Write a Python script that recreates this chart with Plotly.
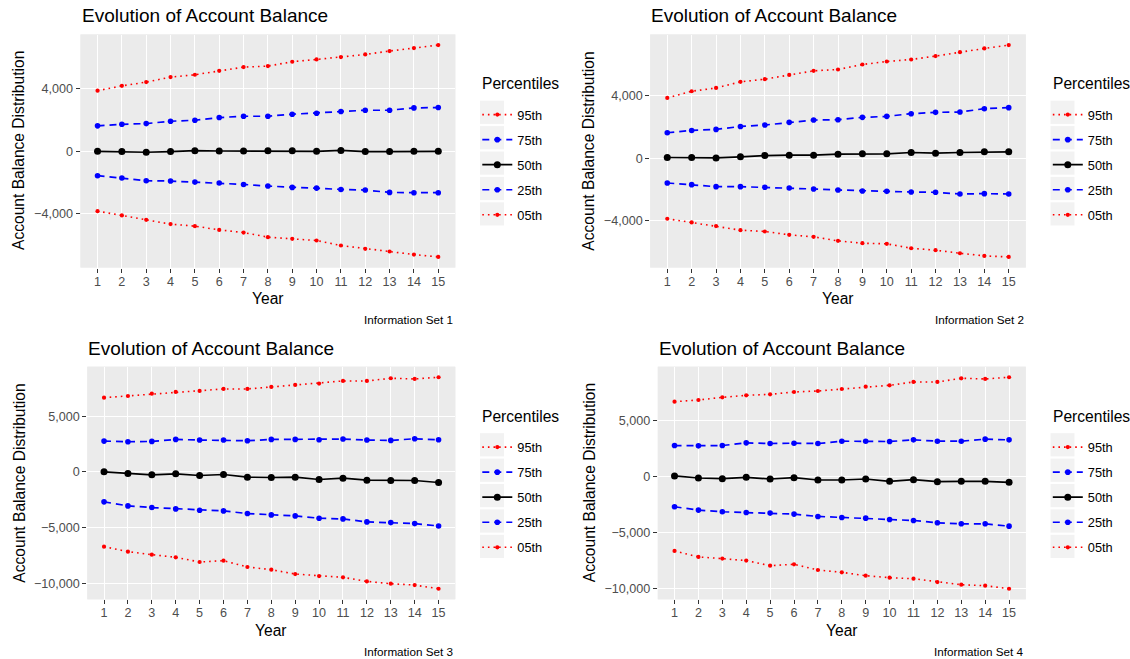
import plotly.graph_objects as go

# ---------------- data ----------------
years = list(range(1, 16))
percentiles = ["95th", "75th", "50th", "25th", "05th"]
captions = ["Information Set 1", "Information Set 2", "Information Set 3", "Information Set 4"]
chart_title = "Evolution of Account Balance"
x_title = "Year"
y_title = "Account Balance Distribution"
legend_title = "Percentiles"

set1_p95 = [3880, 4190, 4430, 4750, 4900, 5155, 5390, 5455, 5735, 5880, 6030, 6200, 6420, 6610, 6800]
set1_p75 = [1630, 1730, 1775, 1925, 1990, 2160, 2245, 2245, 2375, 2440, 2545, 2630, 2630, 2780, 2800]
set1_p50 = [0, -20, -60, -20, 40, 20, 20, 40, 40, 0, 60, -20, -20, 0, 0]
set1_p25 = [-1560, -1710, -1880, -1905, -1970, -2030, -2120, -2225, -2310, -2355, -2440, -2480, -2630, -2650, -2650]
set1_p05 = [-3830, -4105, -4385, -4660, -4790, -5030, -5200, -5495, -5605, -5710, -6030, -6245, -6415, -6610, -6760]

set2_p95 = [3850, 4280, 4490, 4880, 5050, 5325, 5585, 5670, 5990, 6180, 6310, 6525, 6780, 7015, 7230]
set2_p75 = [1625, 1775, 1840, 2030, 2120, 2290, 2440, 2460, 2610, 2675, 2845, 2930, 2950, 3165, 3230]
set2_p50 = [45, 45, 20, 85, 170, 190, 190, 255, 280, 280, 365, 320, 365, 405, 405]
set2_p25 = [-1585, -1690, -1820, -1820, -1860, -1905, -1970, -2030, -2095, -2120, -2160, -2180, -2290, -2265, -2290]
set2_p05 = [-3870, -4105, -4340, -4600, -4685, -4900, -5025, -5285, -5435, -5475, -5755, -5880, -6075, -6245, -6310]

set3_p95 = [6660, 6810, 7020, 7170, 7260, 7440, 7440, 7620, 7800, 7920, 8160, 8160, 8400, 8340, 8490]
set3_p75 = [2760, 2700, 2730, 2910, 2850, 2850, 2790, 2910, 2910, 2880, 2940, 2850, 2820, 2970, 2880]
set3_p50 = [0, -150, -270, -180, -330, -240, -480, -510, -480, -690, -570, -750, -780, -780, -960]
set3_p25 = [-2700, -3060, -3210, -3330, -3450, -3510, -3750, -3870, -3960, -4170, -4230, -4500, -4560, -4650, -4860]
set3_p05 = [-6720, -7170, -7440, -7680, -8100, -7980, -8550, -8790, -9180, -9360, -9480, -9840, -10050, -10170, -10500]

set4_p95 = [6720, 6870, 7110, 7290, 7380, 7590, 7680, 7860, 8070, 8190, 8490, 8490, 8820, 8760, 8910]
set4_p75 = [2790, 2760, 2790, 3030, 2970, 3000, 2970, 3180, 3180, 3150, 3300, 3180, 3180, 3360, 3300]
set4_p50 = [60, -120, -180, -60, -210, -90, -300, -300, -210, -420, -270, -450, -420, -420, -510]
set4_p25 = [-2700, -3000, -3150, -3210, -3270, -3360, -3570, -3660, -3720, -3840, -3930, -4140, -4230, -4230, -4440]
set4_p05 = [-6660, -7200, -7350, -7530, -7980, -7860, -8370, -8580, -8880, -9060, -9150, -9450, -9690, -9780, -10050]

y_ticks_top = [-4000, 0, 4000]
y_ticks_bottom = [-10000, -5000, 0, 5000]

sets = [
    [set1_p95, set1_p75, set1_p50, set1_p25, set1_p05],
    [set2_p95, set2_p75, set2_p50, set2_p25, set2_p05],
    [set3_p95, set3_p75, set3_p50, set3_p25, set3_p05],
    [set4_p95, set4_p75, set4_p50, set4_p25, set4_p05],
]
tick_sets = [y_ticks_top, y_ticks_top, y_ticks_bottom, y_ticks_bottom]

# ---------------- layout / style ----------------
W, H = 1130, 659
FONT = "Liberation Sans, Arial, Helvetica, sans-serif"
TICK_SIZE = 12.6
AXIS_TITLE_SIZE = 15.6
TITLE_SIZE = 19
LEGEND_TEXT_SIZE = 12.8

# panel boxes in pixels: (left, right, top, bottom)
panels_px = [
    (80.5, 455.3, 34.5, 267.5),
    (650.2, 1025.8, 34.5, 267.5),
    (87.3, 455.3, 366.7, 599.3),
    (657.8, 1025.8, 366.7, 599.3),
]

styles = {
    "95th": dict(color="#FF0000", dash="1.6px,4px", width=1.6, size=4.2),
    "75th": dict(color="#0000FF", dash="7px,5px", width=1.7, size=5.6),
    "50th": dict(color="#000000", dash="solid", width=1.7, size=7),
    "25th": dict(color="#0000FF", dash="7px,5px", width=1.7, size=5.6),
    "05th": dict(color="#FF0000", dash="1.6px,4px", width=1.6, size=4.2),
}


def px_x(v):
    return v / W


def px_y(v):
    return 1 - v / H


fig = go.Figure()
annotations = []
shapes = []

for i, (series_list, ticks) in enumerate(zip(sets, tick_sets)):
    n = i + 1
    sfx = "" if n == 1 else str(n)
    legend_name = "legend" if n == 1 else f"legend{n}"
    left, right, top, bottom = panels_px[i]

    for pct, vals in zip(percentiles, series_list):
        st = styles[pct]
        fig.add_trace(go.Scatter(
            x=years, y=vals, mode="lines+markers", name=pct,
            xaxis=f"x{sfx}", yaxis=f"y{sfx}",
            legend=legend_name, legendgroup=f"{n}-{pct}",
            line=dict(color=st["color"], dash=st["dash"], width=st["width"]),
            marker=dict(color=st["color"], size=st["size"]),
            hovertemplate="%{x}: %{y:,}<extra>" + pct + "</extra>",
        ))

    all_vals = [v for s in series_list for v in s]
    lo, hi = min(all_vals), max(all_vals)
    pad = 0.05 * (hi - lo)
    xpad = 0.05 * (max(years) - min(years))

    fig.update_layout({
        f"xaxis{sfx}": dict(
            domain=[px_x(left), px_x(right)], anchor=f"y{sfx}",
            range=[min(years) - xpad, max(years) + xpad],
            tickmode="array", tickvals=years, ticktext=[str(y) for y in years],
            showgrid=True, gridcolor="white", gridwidth=1.3, zeroline=False,
            ticks="outside", ticklen=4, tickwidth=1.1, tickcolor="#333333",
            ticklabelstandoff=-2,
            tickfont=dict(family=FONT, size=TICK_SIZE, color="#4D4D4D"),
            showline=False, fixedrange=True,
        ),
        f"yaxis{sfx}": dict(
            domain=[px_y(bottom), px_y(top)], anchor=f"x{sfx}",
            range=[lo - pad, hi + pad],
            tickmode="array", tickvals=ticks, tickformat=",",
            showgrid=True, gridcolor="white", gridwidth=1.3, zeroline=False,
            ticks="outside", ticklen=4, tickwidth=1.1, tickcolor="#333333",
            tickfont=dict(family=FONT, size=TICK_SIZE, color="#4D4D4D"),
            showline=False, fixedrange=True,
        ),
    })

    # panel background
    shapes.append(dict(type="rect", xref="paper", yref="paper", layer="below",
                       x0=px_x(left), x1=px_x(right), y0=px_y(bottom), y1=px_y(top),
                       fillcolor="#EBEBEB", line=dict(width=0)))

    # title
    annotations.append(dict(text=chart_title, xref="paper", yref="paper",
                            x=px_x(left - 1), y=px_y(top - 18.5), xanchor="left", yanchor="middle",
                            showarrow=False, font=dict(family=FONT, size=TITLE_SIZE, color="black")))
    # x axis title
    annotations.append(dict(text=x_title, xref="paper", yref="paper",
                            x=px_x((left + right) / 2), y=px_y(bottom + 31),
                            xanchor="center", yanchor="middle", showarrow=False,
                            font=dict(family=FONT, size=AXIS_TITLE_SIZE, color="black")))
    # y axis title
    annotations.append(dict(text=y_title, xref="paper", yref="paper",
                            x=px_x(left - 61.5 if n in (1, 2) else left - 68.6), y=px_y((top + bottom) / 2),
                            xanchor="center", yanchor="middle", textangle=-90, showarrow=False,
                            font=dict(family=FONT, size=AXIS_TITLE_SIZE, color="black")))
    # caption
    annotations.append(dict(text=captions[i], xref="paper", yref="paper",
                            x=px_x(right), y=px_y(bottom + 52), xanchor="right", yanchor="middle",
                            showarrow=False, font=dict(family=FONT, size=11.7, color="black")))

    # legend
    col_shift = 0 if n in (1, 3) else 570.5
    row_shift = 0 if n in (1, 2) else 332.5
    leg_left = 477.3 + col_shift
    title_y = 84 + row_shift
    annotations.append(dict(text=legend_title, xref="paper", yref="paper",
                            x=px_x(480 + col_shift), y=px_y(title_y), xanchor="left", yanchor="middle",
                            showarrow=False, font=dict(family=FONT, size=AXIS_TITLE_SIZE, color="black")))
    first_key = 112.3 + row_shift
    fig.update_layout({
        legend_name: dict(
            x=px_x(leg_left), y=px_y(first_key - 12.5), xanchor="left", yanchor="top",
            xref="paper", yref="paper",
            bgcolor="rgba(0,0,0,0)", borderwidth=0,
            font=dict(family=FONT, size=LEGEND_TEXT_SIZE, color="black"),
            traceorder="grouped", tracegroupgap=5.4, itemwidth=30,
        )
    })
    # legend key backgrounds
    for k in range(len(percentiles)):
        kc = first_key + k * 25.4
        shapes.append(dict(type="rect", xref="paper", yref="paper", layer="below",
                           x0=px_x(leg_left + 2.7), x1=px_x(leg_left + 26.7),
                           y0=px_y(kc + 11.6), y1=px_y(kc - 11.6),
                           fillcolor="#F2F2F2", line=dict(width=0)))

fig.update_layout(
    width=W, height=H,
    margin=dict(l=0, r=0, t=0, b=0),
    paper_bgcolor="white", plot_bgcolor="#EBEBEB",
    font=dict(family=FONT, color="black"),
    annotations=annotations, shapes=shapes,
    hovermode="closest",
)

fig.write_html("out.html", config={"displayModeBar": False})
